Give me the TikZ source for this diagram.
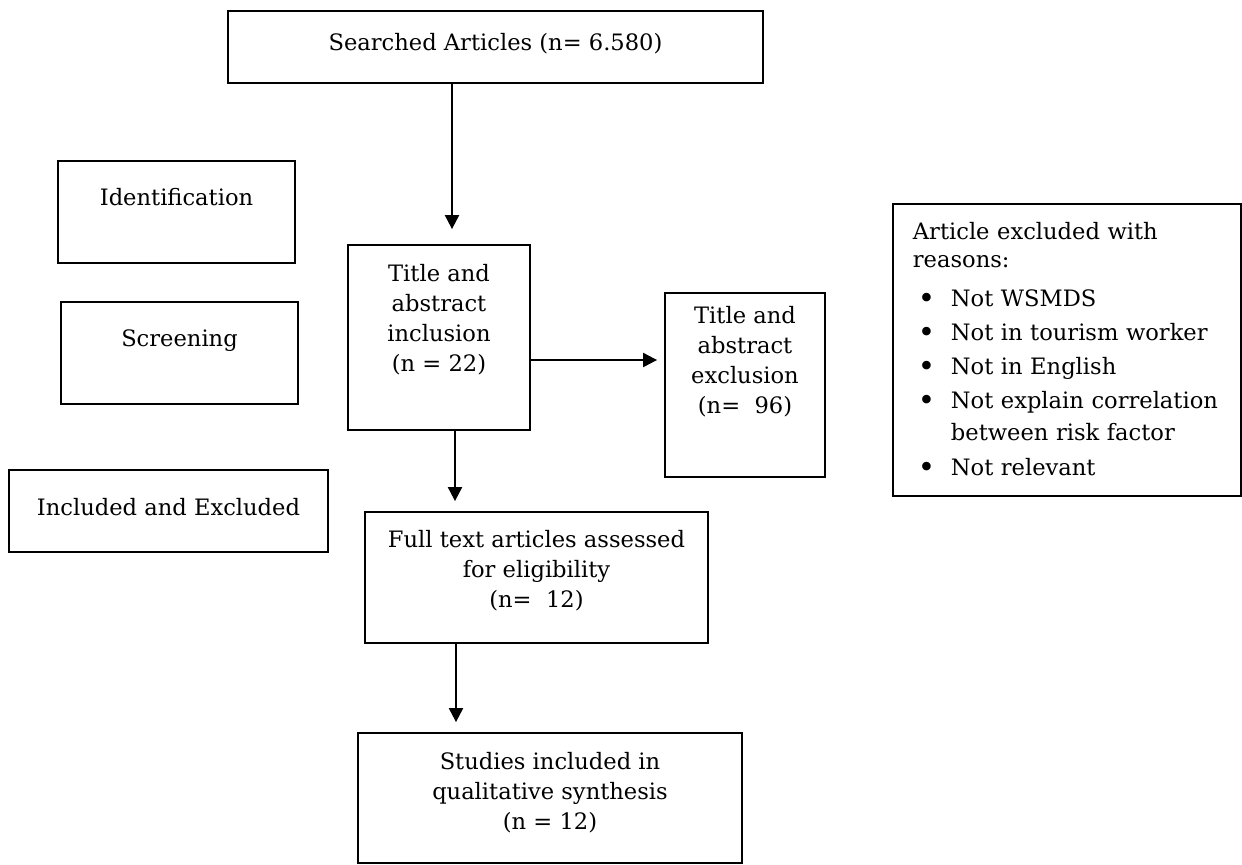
\documentclass[tikz,border=0pt]{standalone}
\usepackage{fontspec}
\setmainfont{DejaVu Serif}
\usetikzlibrary{arrows.meta, positioning}

\newcommand{\bul}{\hspace*{2.5pt}\makebox[16.5pt][l]{\raisebox{-0.25ex}{\scalebox{1.3}{\textbullet}}}}

\begin{document}
\begin{tikzpicture}[
  x=0.5pt, y=-0.5pt,
  every node/.style={font=\fontsize{11.3}{15}\selectfont},
  box/.style={rectangle, draw, line width=0.9pt, align=center, inner sep=0pt},
  arrow/.style={-{Triangle[length=7pt,width=7pt]}, line width=1pt}
]
\useasboundingbox (0,0) rectangle (1242,864);

% Stage boxes on the left
\node[box, minimum width=118.5pt, minimum height=51pt] (ident) at (176.5,212) {Identification\\ ~};
\node[box, minimum width=118.5pt, minimum height=51pt] (screen) at (179.5,353) {Screening\\ ~};
\node[box, minimum width=159.5pt, minimum height=41pt] (inclex) at (168.5,511) {Included and Excluded\\[-11pt]~};

% Main flow
\node[box, minimum width=267.5pt, minimum height=36pt] (searched) at (495.5,47) {Searched Articles (n= 6.580)\\[-10pt]~};
\node[box, minimum width=91pt, minimum height=92.5pt] (incl) at (439,337.5) {Title and\\ abstract\\ inclusion\\ (n = 22)\\[5pt]~};
\node[box, minimum width=80pt, minimum height=92pt] (excl) at (745,385) {Title and\\ abstract\\ exclusion\\ (n=\ \ 96)\\[10pt]~};
\node[box, minimum width=171.5pt, minimum height=65.5pt] (fulltext) at (536.5,577.5) {Full text articles assessed\\ for eligibility\\ (n=\ \ 12)\\[-6.5pt]~};
\node[box, minimum width=192pt, minimum height=65pt] (studies) at (550,798) {Studies included in\\ qualitative synthesis\\ (n = 12)\\[-8pt]~};

% Reasons for exclusion
\node[box, anchor=north west, align=left, inner xsep=10pt, text width=154pt, minimum height=146pt] (reasons) at (892,203) {%
  Article excluded with\\[-1pt]
  reasons:\\[4.5pt]
  \bul Not WSMDS\\[2pt]
  \bul Not in tourism worker\\[2pt]
  \bul Not in English\\[2pt]
  \bul Not explain correlation\\[1pt]
  \hspace*{19pt}between risk factor\\[2.5pt]
  \bul Not relevant};

% Arrows
\draw[arrow, shorten >=7.5pt] ([xshift=6.5pt]incl.north |- searched.south) -- ([xshift=6.5pt]incl.north);
\draw[arrow, shorten >=3.5pt] ([yshift=-11.25pt]incl.east) -- ([yshift=-11.25pt]incl.east -| excl.west);
\draw[arrow, shorten >=5pt] ([xshift=8pt]incl.south) -- ([xshift=8pt]incl.south |- fulltext.north);
\draw[arrow, shorten >=5pt] ([xshift=-40.25pt]fulltext.south) -- ([xshift=-40.25pt]fulltext.south |- studies.north);

\end{tikzpicture}
\end{document}
